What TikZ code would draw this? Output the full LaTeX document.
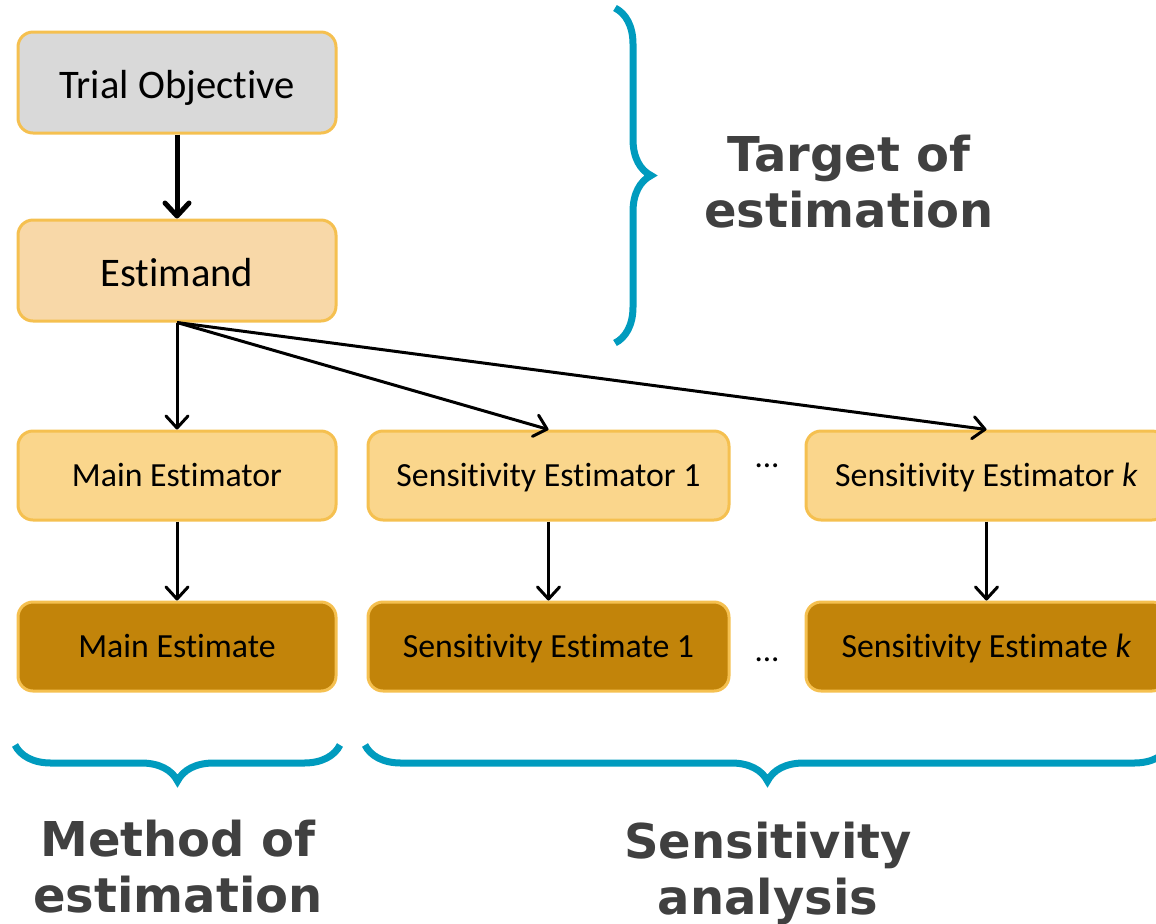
\documentclass[tikz,border=0pt]{standalone}
\usepackage{fontspec}
\setmainfont[Ligatures=NoCommon]{Carlito}
\newfontfamily\headfont{DejaVu Sans}
\usepackage{xcolor}
\usetikzlibrary{arrows.meta,positioning,decorations.pathreplacing}
\definecolor{boxorange}{RGB}{245,192,80}
\definecolor{objgray}{RGB}{217,217,217}
\definecolor{peach}{RGB}{248,216,168}
\definecolor{lightgold}{RGB}{250,214,140}
\definecolor{darkgold}{RGB}{194,132,10}
\definecolor{bracecyan}{RGB}{0,155,190}
\definecolor{headgray}{RGB}{64,64,64}

\begin{document}
\begin{tikzpicture}[
    x=0.5pt, y=-0.5pt,
    node distance=39.5pt,
    box/.style={
      rectangle, rounded corners=7.5pt, draw=boxorange, line width=1.5pt,
      align=center, inner sep=0pt
    },
    bigbox/.style={
      box, minimum width=159pt, minimum height=50.5pt,
      text height=15.5pt, text depth=0pt,
      font=\fontsize{20.3}{24}\selectfont
    },
    smallbox/.style={
      box, minimum width=159pt, minimum height=44.5pt,
      text height=11.3pt, text depth=0pt,
      font=\fontsize{16.9}{20}\selectfont
    },
    widebox/.style={smallbox, minimum width=180.5pt},
    heading/.style={
      align=center, inner sep=0pt, text=headgray,
      font=\headfont\bfseries\fontsize{24}{28}\selectfont
    },
    dotsnode/.style={inner sep=0pt, font=\fontsize{16.5}{19}\selectfont},
    curly/.style={decorate, draw=bracecyan, line width=3.5pt,
      decoration={brace, amplitude=18pt}},
    arrow/.style={-{Straight Barb[length=6pt, width=11pt, round]}, line width=1.5pt, draw=black},
    thickarrow/.style={-{Straight Barb[length=6.5pt, width=12pt, round]}, line width=2.5pt, draw=black}
  ]
    \useasboundingbox (0,0) rectangle (1156,923);
    \clip (0,0) rectangle (1156,923);

    % target of estimation
    \node[bigbox, fill=objgray] (obj) at (177,82.5) {Trial Objective};
    \node[bigbox, fill=peach, below=42pt of obj] (estimand) {Estimand};

    % estimators and estimates
    \node[smallbox, fill=lightgold, below=53.5pt of estimand] (mainest) {Main Estimator};
    \node[smallbox, fill=darkgold, below=of mainest] (mainval) {Main Estimate};
    \node[widebox, fill=lightgold, right=14.5pt of mainest] (sens1) {Sensitivity Estimator 1};
    \node[widebox, fill=lightgold, right=37pt of sens1] (sensk) {Sensitivity Estimator \textit{k}};
    \node[widebox, fill=darkgold, below=of sens1] (sens1val) {Sensitivity Estimate 1};
    \node[widebox, fill=darkgold, below=of sensk] (senskval) {Sensitivity Estimate \textit{k}};
    \node[dotsnode] (dotsa) at (767,466) {...};
    \node[dotsnode] (dotsb) at (767,660) {...};

    \draw[thickarrow] (obj) -- (estimand);
    \draw[arrow] (estimand.south) -- (mainest.north);
    \draw[arrow] (estimand.south) -- (sens1.north);
    \draw[arrow] (estimand.south) -- (sensk.north);
    \draw[arrow] (mainest) -- (mainval);
    \draw[arrow] (sens1) -- (sens1val);
    \draw[arrow] (sensk) -- (senskval);

    % braces
    \draw[curly] (615,8) -- (615,343);
    \draw[curly] (340,745) -- (15,745);
    \draw[curly] (1170,745) -- (365,745);

    \node[heading] (target) at (849,182) {Target of\\estimation};
    \node[heading] (method) at (178,867) {Method of\\estimation};
    \node[heading] (sensitivity) at (768,873) {Sensitivity\\analysis};
\end{tikzpicture}
\end{document}
